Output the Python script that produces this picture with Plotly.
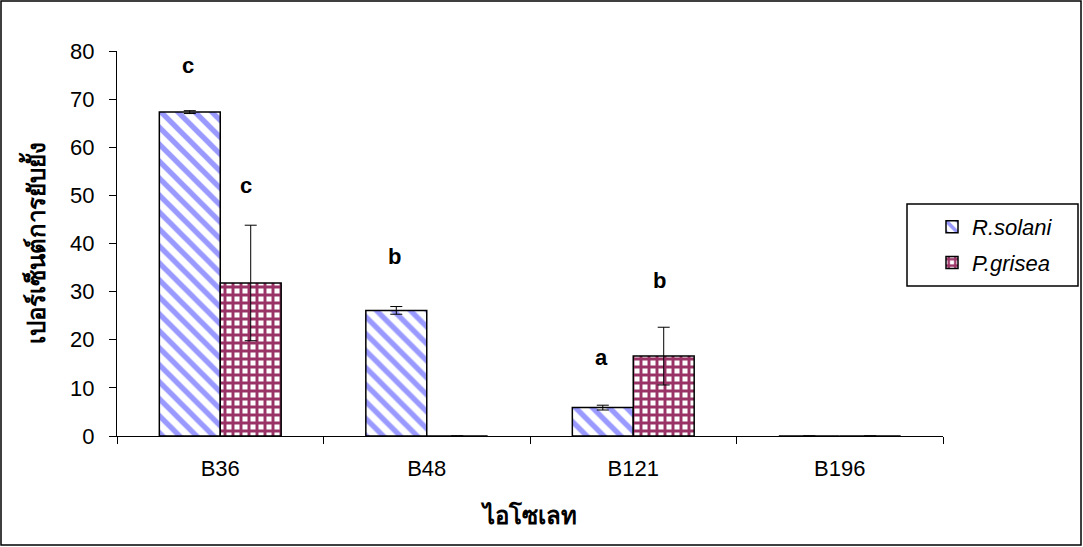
import plotly.graph_objects as go

isolates = ["B36", "B48", "B121", "B196"]
rsolani = [67.3, 26.1, 5.9, 0.0]
rsolani_err = [0.3, 0.8, 0.5, 0.0]
pgrisea = [31.8, 0.0, 16.6, 0.0]
pgrisea_err = [12.0, 0.0, 6.0, 0.0]
rsolani_letters = ["c", "b", "a", ""]
pgrisea_letters = ["c", "", "b", ""]
rsolani_letter_y = [76.9, 37.2, 16.4, None]
pgrisea_letter_y = [52.0, None, 32.4, None]

fig = go.Figure()
fig.add_trace(go.Bar(
    name="<i>R.solani</i>", x=isolates, y=rsolani, legendgroup="r",
    marker=dict(color="white", line=dict(color="black", width=1.5),
                pattern=dict(shape="\\", fgcolor="#9999ff", bgcolor="white", fgopacity=1,
                             size=12, solidity=0.45)),
    error_y=dict(type="data", array=rsolani_err, color="black", thickness=1, width=6),
))
fig.add_trace(go.Bar(
    name="<i>P.grisea</i>", x=isolates, y=pgrisea, legendgroup="p",
    marker=dict(color="white", line=dict(color="black", width=1.5),
                pattern=dict(shape="+", fgcolor="#993366", bgcolor="white", fgopacity=1,
                             size=8, solidity=0.6)),
    error_y=dict(type="data", array=pgrisea_err, color="black", thickness=1, width=6),
))

for i, cat in enumerate(isolates):
    if rsolani_letters[i]:
        fig.add_annotation(x=cat, y=rsolani_letter_y[i], text="<b>%s</b>" % rsolani_letters[i],
                           showarrow=False, xshift=-32, font=dict(size=22, color="black", family="Liberation Sans, Arial"))
    if pgrisea_letters[i]:
        fig.add_annotation(x=cat, y=pgrisea_letter_y[i], text="<b>%s</b>" % pgrisea_letters[i],
                           showarrow=False, xshift=26, font=dict(size=22, color="black", family="Liberation Sans, Arial"))

W, H = 1083, 547
L, R, T, B = 117, 140, 51, 111
pw, ph = W - L - R, H - T - B


def px(x):
    return (x - L) / pw


def py(y):
    return (H - B - y) / ph


# outer chart frame
fig.add_shape(type="rect", xref="paper", yref="paper",
              x0=px(1), x1=px(W - 2), y0=py(H - 2), y1=py(1),
              line=dict(color="black", width=1.5), fillcolor="rgba(0,0,0,0)", layer="below")
# legend frame
fig.add_shape(type="rect", xref="paper", yref="paper",
              x0=px(907), x1=px(1078), y0=py(286), y1=py(204),
              line=dict(color="black", width=1.5), fillcolor="white", layer="below")

fig.update_layout(
    width=W, height=H,
    margin=dict(l=L, r=R, t=T, b=B, autoexpand=False),
    plot_bgcolor="white", paper_bgcolor="white",
    barmode="group", bargap=0.41, bargroupgap=0,
    font=dict(family="Liberation Sans, Arial", size=22, color="black"),
    legend=dict(x=px(932), y=py(206), xanchor="left", yanchor="top",
                borderwidth=0, bgcolor="rgba(0,0,0,0)", traceorder="grouped",
                font=dict(size=22), itemwidth=30, tracegroupgap=4),
    xaxis=dict(showline=True, linecolor="black", linewidth=1, ticks="outside",
               tickson="boundaries", ticklen=7, tickcolor="black", automargin=False,
               ticklabelstandoff=13,
               title=dict(text="<b>ไอโซเลท</b>", font=dict(size=24), standoff=26)),
    yaxis=dict(range=[0, 80], dtick=10, showline=True, linecolor="black", linewidth=1,
               ticks="outside", ticklen=7, tickcolor="black", showgrid=False, zeroline=False,
               automargin=False, ticklabelstandoff=10,
               title=dict(text="<b>เปอร์เซ็นต์การยับยั้ง</b>", font=dict(size=24), standoff=17)),
)
fig.write_html("out.html", config={"displayModeBar": False},
               post_script="document.body.style.margin='0px';")
